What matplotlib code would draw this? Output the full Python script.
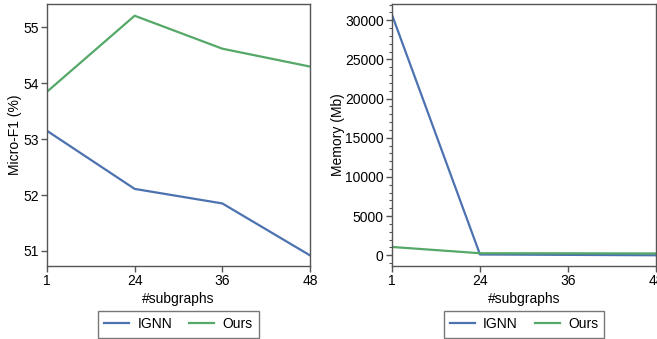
import matplotlib
matplotlib.use("Agg")
import matplotlib.pyplot as plt
from matplotlib.ticker import MultipleLocator

plt.rcParams['font.family'] = ['Liberation Sans', 'DejaVu Sans']

categories = ["1", "24", "36", "48"]
f1_ignn = [53.15, 52.11, 51.85, 50.92]
f1_ours = [53.85, 55.21, 54.62, 54.30]
mem_ignn = [30700, 100, 50, 0]
mem_ours = [1060, 260, 250, 230]

blue = "#4c72b0"
green = "#55a868"
spine_c = "#555555"
fs = 10

fig = plt.figure(figsize=(6.57, 3.39), dpi=100)
W, H = 657, 339
ax1 = fig.add_axes([47 / W, 1 - 266 / H, (310 - 47) / W, (266 - 4) / H])
ax2 = fig.add_axes([392 / W, 1 - 266 / H, (656 - 392) / W, (266 - 4) / H])

x = list(range(len(categories)))

def style(ax):
    for s in ax.spines.values():
        s.set_color(spine_c)
        s.set_linewidth(1.0)
    ax.tick_params(axis='both', which='major', direction='out', length=4,
                   width=1.0, color=spine_c, labelsize=fs, pad=2)
    ax.tick_params(axis='y', which='minor', direction='out', length=2.5,
                   width=0.8, color=spine_c)
    ax.set_xticks(x)
    ax.set_xticklabels(categories)
    ax.set_xlim(0, 3)
    ax.set_xlabel("#subgraphs", fontsize=fs, labelpad=3)

ax1.plot(x, f1_ignn, color=blue, lw=1.6, label="IGNN")
ax1.plot(x, f1_ours, color=green, lw=1.6, label="Ours")
style(ax1)
ax1.set_ylim(50.73, 55.42)
ax1.set_yticks([51, 52, 53, 54, 55])
ax1.set_ylabel("Micro-F1 (%)", fontsize=fs, labelpad=1)

ax2.plot(x, mem_ignn, color=blue, lw=1.6, label="IGNN")
ax2.plot(x, mem_ours, color=green, lw=1.6, label="Ours")
style(ax2)
ax2.set_ylim(-1370, 32080)
ax2.set_yticks([0, 5000, 10000, 15000, 20000, 25000, 30000])
ax2.yaxis.set_minor_locator(MultipleLocator(1000))
ax2.set_ylabel("Memory (Mb)", fontsize=fs, labelpad=0)

for ax in (ax1, ax2):
    leg = ax.legend(loc='upper center', bbox_to_anchor=(0.5, -0.172), ncol=2,
                    frameon=True, fancybox=False, fontsize=fs,
                    handlelength=1.8, columnspacing=1.2, borderpad=0.45,
                    handletextpad=0.6, borderaxespad=0)
    leg.get_frame().set_edgecolor(spine_c)
    leg.get_frame().set_linewidth(1.0)

fig.savefig("out.png", dpi=100)
